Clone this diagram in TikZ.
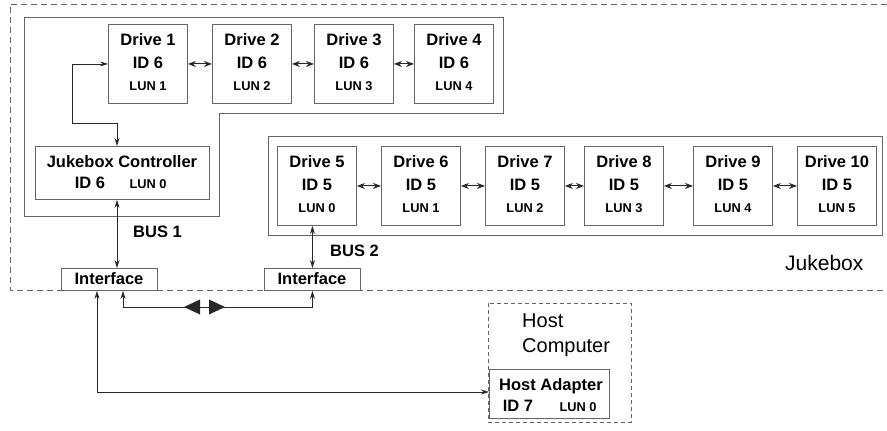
\documentclass[tikz,border=0pt]{standalone}
\usepackage{fontspec}
\setmainfont{Liberation Sans}
\usetikzlibrary{arrows.meta,calc}
\definecolor{boxc}{RGB}{100,100,100}
\definecolor{arrc}{RGB}{40,40,40}
\newcommand\bigbf{\fontsize{16.5}{19}\selectfont\bfseries}
\newcommand\smallbf{\fontsize{12.8}{14}\selectfont\bfseries}
\newcommand\drv[6]{%
  \node[box, minimum width=79, minimum height=79] (#1) at (#2,#3) {};
  \node[txt, font=\bigbf] (#1a) at ($(#1.north)+(0,21.5)$) {Drive #4};
  \node[txt, font=\bigbf] (#1b) at ($(#1.north)+(0,44)$) {ID #5};
  \node[txt, font=\smallbf] (#1c) at ($(#1.north)+(0,66.5)$) {LUN #6};
}
\begin{document}
\begin{tikzpicture}[x=1pt,y=-1pt,
  box/.style={draw=boxc, line width=0.9pt, inner sep=0pt, anchor=north west},
  txt/.style={inner sep=0pt, anchor=base},
  frame/.style={draw=boxc, line width=0.9pt},
  jdash/.style={draw=boxc, line width=0.9pt, dash pattern=on 6pt off 4pt},
  hdash/.style={draw=boxc, line width=0.8pt, dash pattern=on 4pt off 3pt},
  bi/.style={draw=arrc, line width=0.8pt, {Stealth[length=8pt,width=5pt]}-{Stealth[length=8pt,width=5pt]}},
  sbi/.style={draw=arrc, line width=1pt, {Stealth[length=8pt,width=6pt]}-{Stealth[length=8pt,width=6pt]}},
]
\useasboundingbox (0,0) rectangle (887,431);
\fill[white] (0,0) rectangle (887,431);

% Jukebox boundary
\draw[jdash] (887,4) -- (10,4) -- (10,290) -- (887,290);
\node[txt, anchor=base west, font=\fontsize{21}{24}\selectfont] (jlab) at (785,270) {Jukebox};

% group 1 frame
\draw[frame] (24,17) -- (503,17) -- (503,113) -- (219,113) -- (219,216) -- (24,216) -- cycle;
% group 2 frame
\draw[frame] (268,136) rectangle (882,235);

% drives row 1
\drv{d1}{108}{24}{1}{6}{1}
\drv{d2}{212}{24}{2}{6}{2}
\drv{d3}{314}{24}{3}{6}{3}
\drv{d4}{414}{24}{4}{6}{4}
% drives row 2
\drv{d5}{277}{146}{5}{5}{0}
\drv{d6}{381}{146}{6}{5}{1}
\drv{d7}{485}{146}{7}{5}{2}
\drv{d8}{584}{146}{8}{5}{3}
\drv{d9}{693}{146}{9}{5}{4}
\drv{d10}{797}{146}{10}{5}{5}

\draw[sbi] (d1.east) -- (d2.west);
\draw[sbi] (d2.east) -- (d3.west);
\draw[sbi] (d3.east) -- (d4.west);
\draw[sbi] (d5.east) -- (d6.west);
\draw[sbi] (d6.east) -- (d7.west);
\draw[sbi] (d7.east) -- (d8.west);
\draw[sbi] (d8.east) -- (d9.west);
\draw[sbi] (d9.east) -- (d10.west);

% controller
\node[box, minimum width=174, minimum height=53] (ctrl) at (35,146) {};
\node[txt, font=\bigbf] (ctrla) at (122,167) {Jukebox Controller};
\node[txt, font=\bigbf] (ctrlb) at (90,188) {ID 6};
\node[txt, font=\smallbf] (ctrlc) at (148,188) {LUN 0};

\coordinate (k1) at (72,123);
\coordinate (k2) at (117,146);
\draw[bi] (d1.west) -| (k1) -| (k2);

% interfaces
\node[box, minimum width=96, minimum height=22] (if1) at (61,268) {};
\node[txt, font=\bigbf] (if1t) at (109,284) {Interface};
\node[box, minimum width=96, minimum height=22] (if2) at (264,268) {};
\node[txt, font=\bigbf] (if2t) at (312,284) {Interface};

% buses
\coordinate (b1) at (117,0);
\draw[bi] (ctrl.south -| b1) -- (if1.north -| b1);
\node[txt, anchor=base west, font=\bigbf] (bus1) at (133,237) {BUS 1};
\draw[bi] (d5.south -| if2.north) -- (if2.north);
\node[txt, anchor=base west, font=\bigbf] (bus2) at (330,256) {BUS 2};

% link between interfaces
\coordinate (j1) at (123,307);
\draw[bi] (if1.south -| j1) -- (j1) -| (if2.south);
\fill[arrc] (184,307) -- (200,299.5) -- (200,314.5) -- cycle;
\fill[arrc] (225,307) -- (209,299.5) -- (209,314.5) -- cycle;

% host computer
\draw[hdash] (488,303) rectangle (631,422);
\node[txt, anchor=base west, font=\fontsize{20}{24}\selectfont] (hc1) at (522,327) {Host};
\node[txt, anchor=base west, font=\fontsize{20}{24}\selectfont] (hc2) at (522,352) {Computer};
\node[box, fill=white, minimum width=120, minimum height=49] (ha) at (489,369) {};
\node[txt, font=\bigbf] (haa) at (551,390) {Host Adapter};
\node[txt, font=\bigbf] (hab) at (518,411) {ID 7};
\node[txt, font=\smallbf] (hac) at (578,411) {LUN 0};

\coordinate (h1) at (97,392);
\draw[bi] (if1.south -| h1) -- (h1) -- (h1 -| ha.west);
\end{tikzpicture}
\end{document}
